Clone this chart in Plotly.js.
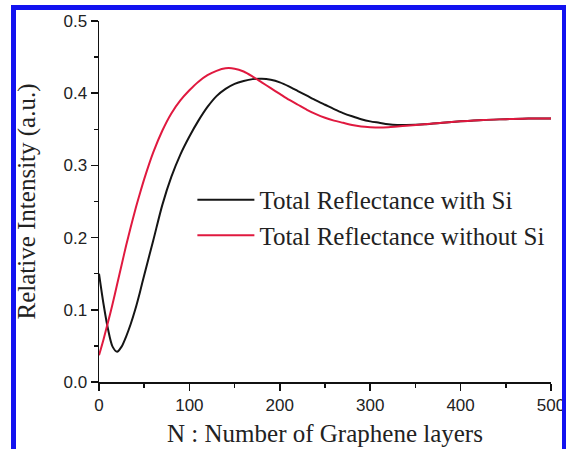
<!DOCTYPE html>
<html>
<head>
<meta charset="utf-8">
<script src="https://cdn.plot.ly/plotly-3.0.1.min.js"></script>
<style>
  html, body { margin: 0; padding: 0; background: #ffffff; overflow: hidden; }
  #wrap { position: relative; width: 566px; height: 449px; }
  #chart { position: absolute; left: 0; top: 0; width: 566px; height: 449px; }
  #frame { position: absolute; left: 11px; top: 5px; width: 546px; height: 460px;
           border: 5px solid rgb(18,18,240); pointer-events: none; }
</style>
</head>
<body>
<div id="wrap">
  <div id="chart"></div>
  <div id="frame"></div>
</div>
<script>
// Number of graphene layers
const layers = [0, 5, 10, 15, 20, 25, 30, 35, 40, 45, 50, 60, 70, 80, 90, 100, 110, 120, 130, 140, 150, 160, 170, 180, 190, 200, 210, 220, 230, 240, 250, 260, 270, 280, 290, 300, 310, 320, 330, 340, 360, 380, 400, 425, 450, 475, 500];
// Total reflectance with Si
const withSi = [0.150, 0.108, 0.073, 0.049, 0.042, 0.049, 0.063, 0.080, 0.100, 0.123, 0.148, 0.196, 0.245, 0.284, 0.315, 0.340, 0.362, 0.381, 0.396, 0.406, 0.413, 0.417, 0.4195, 0.420, 0.4185, 0.415, 0.4095, 0.403, 0.3965, 0.390, 0.384, 0.378, 0.3725, 0.368, 0.364, 0.361, 0.359, 0.357, 0.356, 0.356, 0.357, 0.359, 0.361, 0.363, 0.364, 0.365, 0.365];
// Total reflectance without Si
const withoutSi = [0.037, 0.059, 0.083, 0.108, 0.135, 0.162, 0.189, 0.214, 0.238, 0.260, 0.281, 0.318, 0.348, 0.372, 0.390, 0.404, 0.416, 0.425, 0.431, 0.4345, 0.434, 0.430, 0.423, 0.415, 0.407, 0.399, 0.391, 0.384, 0.377, 0.371, 0.366, 0.362, 0.359, 0.356, 0.354, 0.353, 0.3525, 0.353, 0.354, 0.355, 0.357, 0.359, 0.361, 0.363, 0.364, 0.365, 0.365];
const seriesNames = ["Total Reflectance with Si", "Total Reflectance without Si"];
const xTickVals = [0, 100, 200, 300, 400, 500];
const yTickVals = [0.0, 0.1, 0.2, 0.3, 0.4, 0.5];
const yTickText = ["0.0", "0.1", "0.2", "0.3", "0.4", "0.5"];

const traces = [
  { x: layers, y: withSi, name: seriesNames[0], mode: "lines",
    line: { color: "#151515", width: 2, shape: "spline", smoothing: 0.8 } },
  { x: layers, y: withoutSi, name: seriesNames[1], mode: "lines",
    line: { color: "#e0193f", width: 2, shape: "spline", smoothing: 0.8 } }
];

const serif = "Liberation Serif, Times New Roman, serif";
const axisCommon = {
  showgrid: false, zeroline: false, showline: true, linecolor: "#111", linewidth: 1.5,
  ticks: "outside", ticklen: 7, tickwidth: 1.5, tickcolor: "#111",
  tickfont: { family: "Liberation Sans, Arial, sans-serif", size: 17, color: "#222" }
};

const layout = {
  width: 566, height: 449,
  margin: { l: 99, r: 15, t: 21, b: 67 },
  paper_bgcolor: "#ffffff", plot_bgcolor: "#ffffff",
  showlegend: true,
  legend: {
    x: 0.2066, y: 0.568, xanchor: "left", yanchor: "top",
    itemwidth: 57,
    bgcolor: "rgba(0,0,0,0)", borderwidth: 0,
    font: { family: serif, size: 25, color: "#222" }
  },
  xaxis: Object.assign({}, axisCommon, {
    range: [0, 500], tickvals: xTickVals,
    minor: { ticks: "outside", ticklen: 4, tickwidth: 1.5, tickcolor: "#111", dtick: 50, showgrid: false },
    title: { text: "N : Number of Graphene layers", standoff: 10,
      font: { family: serif, size: 25, color: "#222" } }
  }),
  yaxis: Object.assign({}, axisCommon, {
    range: [0, 0.5], tickvals: yTickVals, ticktext: yTickText,
    minor: { ticks: "outside", ticklen: 4, tickwidth: 1.5, tickcolor: "#111", dtick: 0.05, showgrid: false },
    title: { text: "Relative Intensity (a.u.)", standoff: 20,
      font: { family: serif, size: 25, color: "#222" } }
  })
};

Plotly.newPlot("chart", traces, layout, { displayModeBar: false, staticPlot: true });
</script>
</body>
</html>
